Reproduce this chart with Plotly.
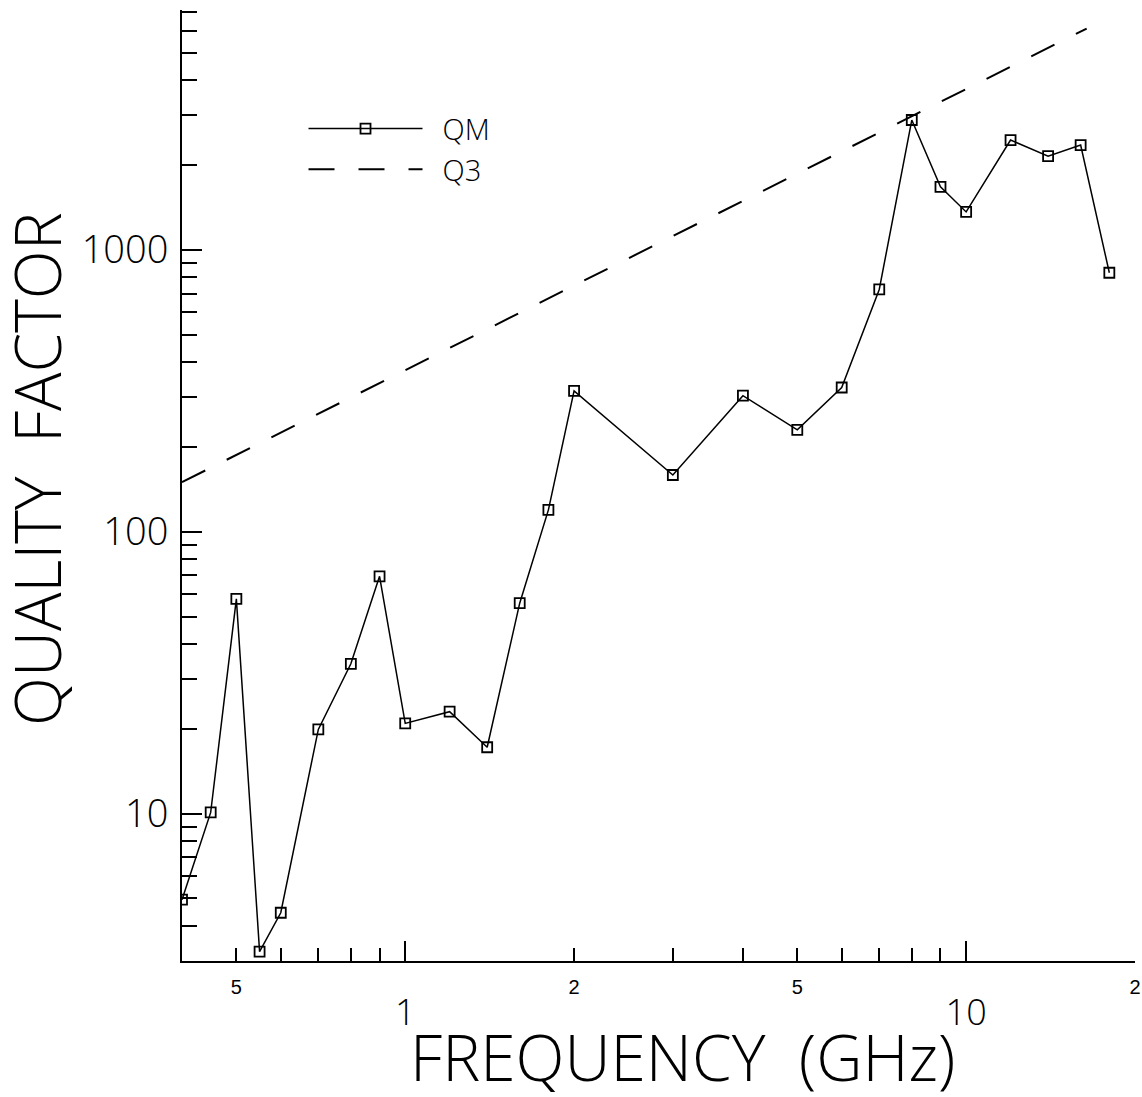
import numpy as np
import plotly.graph_objects as go

# ---- data ----
freq_ghz = [0.4, 0.45, 0.5, 0.55, 0.6, 0.7, 0.8, 0.9, 1.0, 1.2, 1.4, 1.6, 1.8, 2.0,
            3.0, 4.0, 5.0, 6.0, 7.0, 8.0, 9.0, 10.0, 12.0, 14.0, 16.0, 18.0]
qm = [4.95, 10.1, 57.8, 3.24, 4.45, 19.9, 34.0, 69.5, 20.9, 23.0, 17.2, 55.8, 119.6, 316,
      159, 304, 230, 325, 724, 2890, 1674, 1364, 2454, 2152, 2355, 830]

q3_freq = [0.4, 16.4]
q3 = [150, 6100]

x_major_vals = [1, 10]
x_major_text = ["1", "10"]
x_minor_vals = [0.5, 0.6, 0.7, 0.8, 0.9, 2, 3, 4, 5, 6, 7, 8, 9, 20]
x_small_label_vals = [0.5, 2, 5, 20]
x_small_label_text = ["5", "2", "5", "2"]

y_major_vals = [10, 100, 1000]
y_major_text = ["10", "100", "1000"]
y_minor_vals = [4, 5, 6, 7, 8, 9, 20, 30, 40, 50, 60, 70, 80, 90,
                200, 300, 400, 500, 600, 700, 800, 900, 2000, 3000, 4000, 5000, 6000, 7000]

x_range = [0.4, 20]
y_range = [3, 7100]

THIN = "Open Sans"
THIN_W = 300
NB = "\u00a0"

fig = go.Figure()
fig.add_trace(go.Scatter(
    x=freq_ghz, y=qm, mode="lines+markers", name=NB + NB + "QM",
    line=dict(color="black", width=1.5),
    marker=dict(symbol="square-open", size=10, color="black", line=dict(width=1.8)),
))
fig.add_trace(go.Scatter(
    x=q3_freq, y=q3, mode="lines", name=NB + NB + "Q3",
    line=dict(color="black", width=2, dash="26px,24px"),
))
# invisible carrier so the secondary (label-only) x axis is drawn
fig.add_trace(go.Scatter(
    x=x_range, y=y_range, xaxis="x2", mode="none", showlegend=False, hoverinfo="skip",
))

fig.update_layout(
    template="none",
    width=1142, height=1097,
    margin=dict(l=182, r=7, t=10, b=136, autoexpand=False),
    paper_bgcolor="white", plot_bgcolor="white",
    showlegend=True,
    legend=dict(x=0.1275, y=0.902, xanchor="left", yanchor="top",
                bgcolor="rgba(0,0,0,0)", borderwidth=0, itemwidth=114,
                font=dict(family=THIN, size=29, color="black", weight=THIN_W),
                tracegroupgap=0),
    xaxis=dict(
        type="log", range=[np.log10(x_range[0]), np.log10(x_range[1])],
        automargin=False,
        showline=True, linecolor="black", linewidth=2, mirror=False,
        showgrid=False, zeroline=False,
        ticks="inside", ticklen=20, tickwidth=2, tickcolor="black",
        tickmode="array", tickvals=x_major_vals, ticktext=x_major_text,
        tickfont=dict(family=THIN, size=36, color="black", weight=THIN_W),
        ticklabelstandoff=19,
        minor=dict(tickmode="array", tickvals=x_minor_vals, ticks="inside",
                   ticklen=13, tickwidth=2, tickcolor="black", showgrid=False),
    ),
    xaxis2=dict(
        type="log", range=[np.log10(x_range[0]), np.log10(x_range[1])],
        automargin=False,
        overlaying="x", anchor="y", side="bottom",
        showline=False, showgrid=False, zeroline=False, ticks="",
        tickmode="array", tickvals=x_small_label_vals, ticktext=x_small_label_text,
        tickfont=dict(family="Liberation Sans", size=20, color="black"),
        ticklabelstandoff=12,
    ),
    yaxis=dict(
        type="log", range=[np.log10(y_range[0]), np.log10(y_range[1])],
        automargin=False,
        showline=True, linecolor="black", linewidth=2,
        showgrid=False, zeroline=False,
        ticks="inside", ticklen=20, tickwidth=2, tickcolor="black",
        tickmode="array", tickvals=y_major_vals, ticktext=y_major_text,
        tickfont=dict(family=THIN, size=38, color="black", weight=THIN_W),
        ticklabelstandoff=4,
        minor=dict(tickmode="array", tickvals=y_minor_vals, ticks="inside",
                   ticklen=15, tickwidth=2, tickcolor="black", showgrid=False),
    ),
    annotations=[
        dict(text="QUALITY  FACTOR", xref="paper", yref="paper",
             x=(36 - 182) / 953, y=1 - (469 - 10) / 951, xanchor="center", yanchor="middle",
             textangle=-90, showarrow=False,
             font=dict(family=THIN, size=64, color="black", weight=THIN_W)),
        dict(text="FREQUENCY  (GHz)", xref="paper", yref="paper",
             x=(682 - 182) / 953, y=-(1056 - 961) / 951, xanchor="center", yanchor="middle",
             showarrow=False,
             font=dict(family=THIN, size=64, color="black", weight=THIN_W)),
    ],
)

fig.write_html("out.html", config={"displayModeBar": False},
               post_script="document.body.style.margin='0px';")
